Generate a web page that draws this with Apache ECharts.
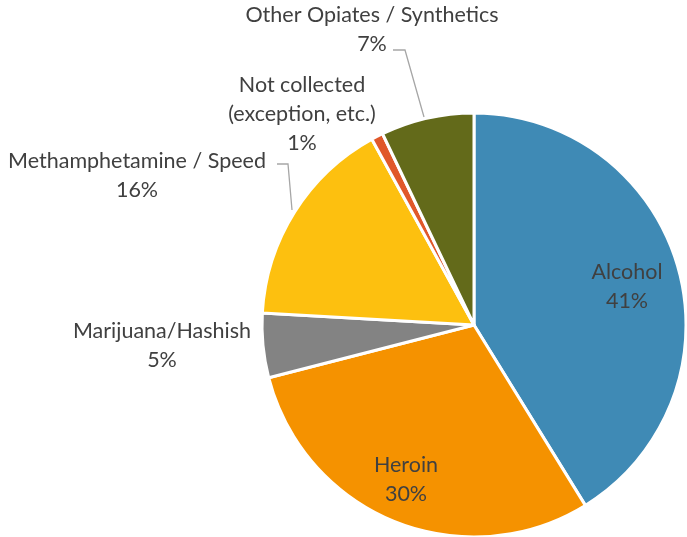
<!DOCTYPE html>
<html>
<head>
<meta charset="utf-8">
<script src="https://cdn.jsdelivr.net/npm/echarts@6/dist/echarts.min.js"></script>
<style>
  html, body { margin: 0; padding: 0; background: #fff; }
  #chart { width: 687px; height: 537px; }
</style>
</head>
<body>
<div id="chart"></div>
<script>
// reasons, clockwise from 12 o'clock
const categories = [
  "Alcohol",
  "Heroin",
  "Marijuana/Hashish",
  "Methamphetamine / Speed",
  "Not collected\n(exception, etc.)",
  "Other Opiates / Synthetics"
]
const shares = [41.2, 29.8, 4.9, 16.1, 0.9, 7.1]
const colors = ["#3f8ab5", "#f59200", "#838383", "#fdc00f", "#e0582a", "#636a1a"]

// label anchor points (centre of text block) and leader lines
const labelSpots = [
  { x: 627, y: 287 },
  { x: 406, y: 480 },
  { x: 162, y: 346 },
  { x: 137, y: 176, line: [[292, 210], [288, 164], [277, 164]] },
  { x: 302, y: 114 },
  { x: 372, y: 30, line: [[424, 117], [405, 50], [393, 50]] }
]

const chart = echarts.init(document.getElementById("chart"))

chart.setOption({
  animation: false,
  series: [
    {
      type: "pie",
      center: [474, 325],
      radius: 212,
      startAngle: 90,
      clockwise: true,
      avoidLabelOverlap: false,
      data: categories.map((name, i) => ({
        name,
        value: shares[i],
        itemStyle: { color: colors[i] }
      })),
      itemStyle: { borderColor: "#fff", borderWidth: 3 },
      label: {
        show: true,
        position: "outside",
        formatter: p => p.name + "\n" + Math.round(p.percent) + "%",
        color: "#404040",
        fontFamily: "Lato",
        fontSize: 21.5,
        lineHeight: 29,
        align: "center",
        overflow: "none",
        width: 400
      },
      labelLine: {
        show: true,
        lineStyle: { color: "#a6a6a6", width: 1.3 }
      },
      labelLayout: p => {
        const s = labelSpots[p.dataIndex]
        return {
          x: s.x,
          y: s.y,
          align: "center",
          verticalAlign: "middle",
          hideOverlap: false,
          labelLinePoints: s.line || [[0, 0], [0, 0], [0, 0]]
        }
      }
    }
  ]
})

window.addEventListener("resize", () => chart.resize())
</script>
</body>
</html>
